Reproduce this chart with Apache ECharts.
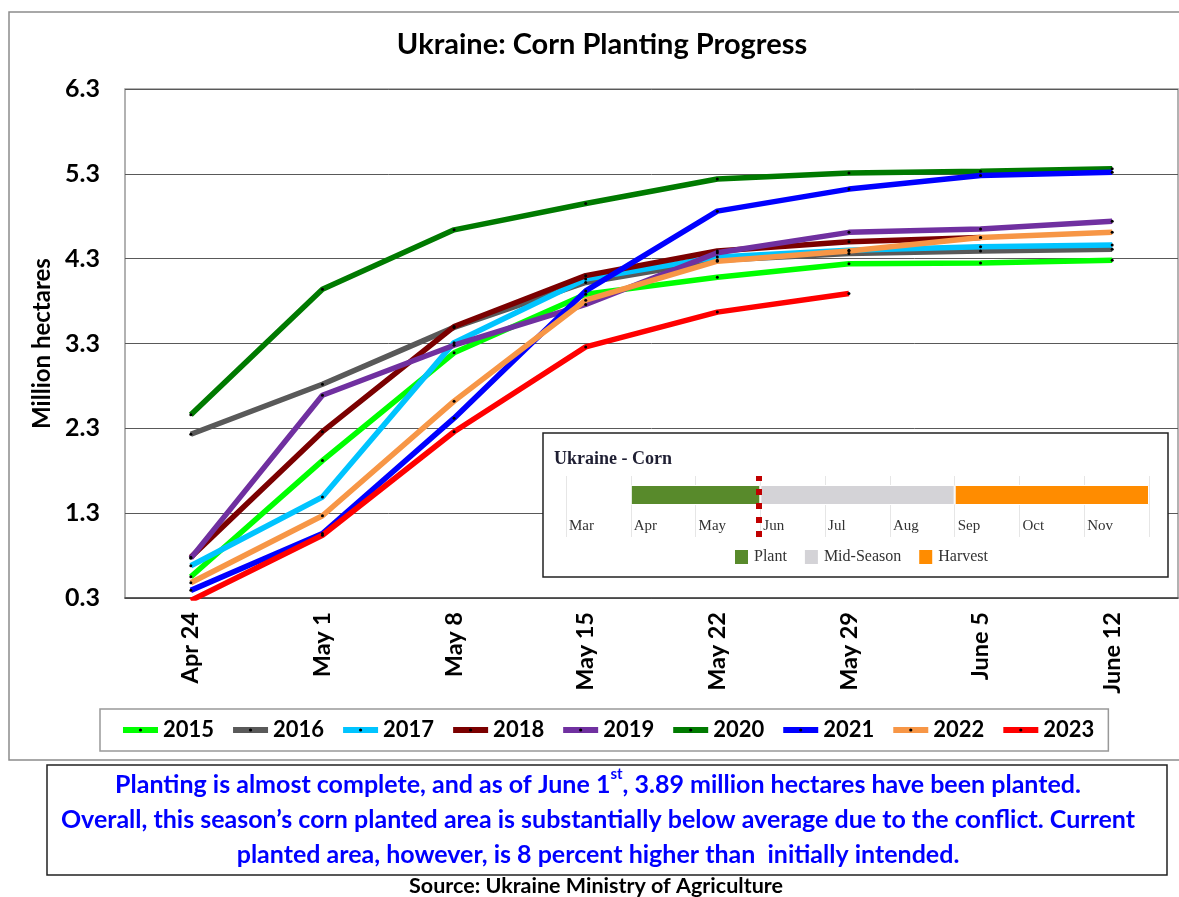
<!DOCTYPE html>
<html>
<head>
<meta charset="utf-8">
<script src="https://cdn.jsdelivr.net/npm/echarts@6/dist/echarts.min.js"></script>
<style>
  html, body { margin: 0; padding: 0; background: #fff; }
  #chart { width: 1179px; height: 897px; }
</style>
</head>
<body>
<div id="chart"></div>
<script>
// weekly planting progress, million hectares
const weeks = ['Apr 24', 'May 1', 'May 8', 'May 15', 'May 22', 'May 29', 'June 5', 'June 12']
const yTicks = [0.3, 1.3, 2.3, 3.3, 4.3, 5.3, 6.3]
const years = ['2015', '2016', '2017', '2018', '2019', '2020', '2021', '2022', '2023']

const y2015 = [0.55, 1.92, 3.19, 3.88, 4.08, 4.24, 4.25, 4.28]
const y2016 = [2.23, 2.82, 3.49, 4.02, 4.28, 4.36, 4.39, 4.41]
const y2017 = [0.68, 1.49, 3.31, 4.06, 4.32, 4.40, 4.44, 4.46]
const y2018 = [0.78, 2.26, 3.50, 4.10, 4.39, 4.50, 4.55, null]
const y2019 = [0.77, 2.69, 3.28, 3.76, 4.37, 4.61, 4.65, 4.74]
const y2020 = [2.46, 3.94, 4.64, 4.95, 5.24, 5.31, 5.33, 5.36]
const y2021 = [0.39, 1.06, 2.42, 3.92, 4.86, 5.12, 5.28, 5.32]
const y2022 = [0.48, 1.27, 2.62, 3.81, 4.27, 4.39, 4.55, 4.61]
const y2023 = [0.27, 1.04, 2.26, 3.26, 3.67, 3.89, null, null]
const yearValues = [y2015, y2016, y2017, y2018, y2019, y2020, y2021, y2022, y2023]

// crop calendar inset (months counted from 1 Mar)
const insetMonths = ['Mar', 'Apr', 'May', 'Jun', 'Jul', 'Aug', 'Sep', 'Oct', 'Nov']
const stageNames = ['Plant', 'Mid-Season', 'Harvest']
const stageStart = [1]
const stageLengths = [2, 3, 3]
const currentPos = 2.97

const yearColors = ['#00ff00', '#595959', '#00c4ff', '#7b0000', '#7030a0', '#007a00', '#0000ff', '#f79646', '#ff0000']
const stageColors = ['#588a2b', '#d4d3d7', '#ff8c00']

const FONT = 'Lato, "Open Sans", sans-serif'
const SERIF = '"Liberation Serif", "DejaVu Serif", serif'

const chart = echarts.init(document.getElementById('chart'))

const lineSeries = years.map((y, i) => ({
  name: y, type: 'line', data: yearValues[i],
  xAxisIndex: 0, yAxisIndex: 0,
  symbol: 'circle', symbolSize: 3, showSymbol: true,
  lineStyle: { color: yearColors[i], width: 5.5 },
  itemStyle: { color: '#000' },
  emphasis: { disabled: true },
  z: 2,
}))

const stageSeries = [{
  name: 'base', type: 'bar', stack: 'cal', data: stageStart,
  xAxisIndex: 1, yAxisIndex: 1, barWidth: 20,
  itemStyle: { color: 'transparent' }, silent: true, z: 4,
}].concat(stageNames.map((s, i) => ({
  name: s, type: 'bar', stack: 'cal', data: [stageLengths[i]],
  xAxisIndex: 1, yAxisIndex: 1, barWidth: 20,
  itemStyle: { color: stageColors[i], borderColor: '#fff', borderWidth: 1 },
  emphasis: { disabled: true }, z: 4,
})))

const markerSeries = {
  name: 'today', type: 'line', data: [], xAxisIndex: 2, yAxisIndex: 2, z: 5,
  markLine: {
    silent: true, symbol: ['none', 'none'], label: { show: false },
    lineStyle: { color: '#c00000', type: [6, 8], width: 6 },
    data: [{ xAxis: currentPos }],
  },
}

chart.setOption({
  animation: false,
  graphic: [
    { type: 'rect', z: 0, shape: { x: 9, y: 12, width: 1190, height: 748 },
      style: { fill: 'none', stroke: '#8c8c8c', lineWidth: 1.5 } },
    { type: 'rect', z: 1, shape: { x: 543, y: 433, width: 625, height: 144 },
      style: { fill: '#fff', stroke: '#222', lineWidth: 1.5 } },
    { type: 'rect', z: 1, shape: { x: 47, y: 765, width: 1120, height: 110 },
      style: { fill: '#fff', stroke: '#222', lineWidth: 1.5 } },
    { type: 'text', z: 5, style: { x: 602, y: 45, text: 'Ukraine: Corn Planting Progress',
      align: 'center', verticalAlign: 'middle', font: 'bold 29px ' + FONT, fill: '#000' } },
    { type: 'text', z: 5, style: { x: 554, y: 459, text: 'Ukraine - Corn',
      align: 'left', verticalAlign: 'middle', font: 'bold 18px ' + SERIF, fill: '#1f1f33' } },
    { type: 'text', z: 5, style: {
      x: 598, y: 767, align: 'center', verticalAlign: 'top',
      text: '{a|Planting is almost complete, and as of June 1}{s|st}{a|, 3.89 million hectares have been planted.}\n' +
            '{a|Overall, this season\u2019s corn planted area is substantially below average due to the conflict. Current}\n' +
            '{a|planted area, however, is 8 percent higher than  initially intended.}',
      rich: {
        a: { fontFamily: FONT, fontWeight: 'bold', fontSize: 25, lineHeight: 35, fill: '#0000ff', color: '#0000ff' },
        s: { fontFamily: FONT, fontWeight: 'bold', fontSize: 15, lineHeight: 22, verticalAlign: 'top', fill: '#0000ff', color: '#0000ff' },
      } } },
    { type: 'text', z: 5, style: { x: 596, y: 886, text: 'Source: Ukraine Ministry of Agriculture',
      align: 'center', verticalAlign: 'middle', font: 'bold 21.5px ' + FONT, fill: '#000' } },
  ],
  legend: [{
    data: years, left: 100, top: 709,
    padding: [8, 14, 8, 20], itemGap: 16, itemWidth: 35, itemHeight: 4,
    lineStyle: { width: 6 },
    borderColor: '#999', borderWidth: 1.5,
    textStyle: { fontFamily: FONT, fontWeight: 'bold', fontSize: 22, lineHeight: 26, color: '#000' },
    selectedMode: false,
  }, {
    data: stageNames, left: 733, top: 548,
    icon: 'rect', itemWidth: 15, itemHeight: 16, itemGap: 16, padding: 0, z: 5,
    textStyle: { fontFamily: SERIF, fontSize: 16, color: '#333' },
    selectedMode: false,
  }],
  grid: [
    { left: 125, right: 1, top: 89, bottom: 299, show: true, borderColor: '#999', borderWidth: 1.5 },
    { left: 566, right: 30, top: 472, height: 46 },
    { left: 566, right: 30, top: 476, bottom: 360 },
  ],
  xAxis: [{
    gridIndex: 0, type: 'category', data: weeks, boundaryGap: true,
    axisLine: { lineStyle: { color: '#444', width: 1.5 } },
    axisTick: { show: false },
    axisLabel: { rotate: 90, margin: 14, fontFamily: FONT, fontWeight: 'bold', fontSize: 23.5, color: '#000' },
  }, {
    gridIndex: 1, type: 'value', min: 0, max: 9, show: false,
  }, {
    gridIndex: 2, type: 'value', min: 0, max: 9, interval: 1, z: 3,
    axisLine: { show: false }, axisTick: { show: false },
    splitLine: { show: true, lineStyle: { color: '#e6e6e6', width: 1 } },
    axisLabel: {
      inside: true, margin: 3, align: 'left', padding: [0, 0, 0, 3],
      fontFamily: SERIF, fontSize: 15, color: '#333',
      formatter: v => insetMonths[v] || '',
    },
  }],
  yAxis: [{
    gridIndex: 0, type: 'value', min: 0.3, max: 6.3,
    name: 'Million hectares', nameLocation: 'middle', nameRotate: 90, nameGap: 66,
    nameTextStyle: { fontFamily: FONT, fontWeight: 'bold', fontSize: 24, color: '#000' },
    axisLine: { show: false },
    axisTick: { show: false, customValues: yTicks },
    splitLine: { show: true, lineStyle: { color: '#595959', width: 1 } },
    axisLabel: { customValues: yTicks, margin: 25, fontFamily: FONT, fontWeight: 'bold', fontSize: 25, color: '#000',
      formatter: v => v.toFixed(1) },
  }, {
    gridIndex: 1, type: 'category', data: ['Corn'], show: false,
  }, {
    gridIndex: 2, type: 'value', min: 0, max: 1, show: false,
  }],
  series: lineSeries.concat(stageSeries, [markerSeries]),
})
</script>
</body>
</html>
